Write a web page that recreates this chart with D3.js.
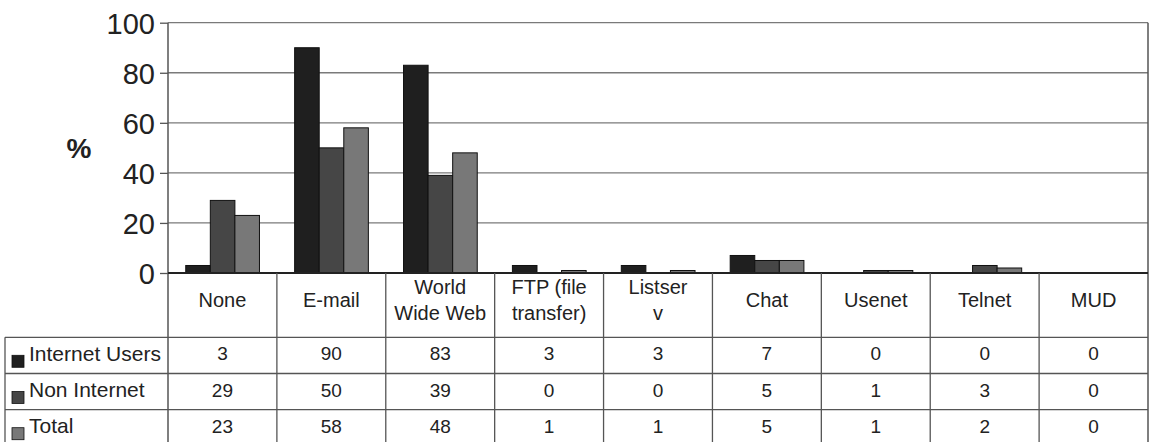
<!DOCTYPE html>
<html>
<head>
<meta charset="utf-8">
<script src="https://cdn.jsdelivr.net/npm/d3@7"></script>
<style>
  html, body { margin: 0; padding: 0; background: #fff; }
  svg { display: block; font-family: "Liberation Sans", Arial, sans-serif; }
</style>
</head>
<body>
<svg id="chart" width="1150" height="442"></svg>
<script>
// ---- data ----
const categories = ["None", "E-mail", "World Wide Web", "FTP (file transfer)", "Listserv", "Chat", "Usenet", "Telnet", "MUD"];
const categoryLines = [["None"], ["E-mail"], ["World", "Wide Web"], ["FTP (file", "transfer)"], ["Listser", "v"], ["Chat"], ["Usenet"], ["Telnet"], ["MUD"]];
const seriesNames = ["Internet Users", "Non Internet", "Total"];
const internetUsers = [3, 90, 83, 3, 3, 7, 0, 0, 0];
const nonInternet = [29, 50, 39, 0, 0, 5, 1, 3, 0];
const total = [23, 58, 48, 1, 1, 5, 1, 2, 0];
const yTicks = [0, 20, 40, 60, 80, 100];

const seriesValues = [internetUsers, nonInternet, total];
const colors = ["#1f1f1f", "#464646", "#787878"];

// ---- layout ----
const svg = d3.select("#chart");
const plotLeft = 168, plotRight = 1148;
const yTop = 22.7, yBottom = 273;
const tableLeft = 5;
const headerBottom = 337.3;
const rowH = 36.2;

const x = d3.scaleBand().domain(categories).range([plotLeft, plotRight]).padding(0);
const step = x.bandwidth();
const xInner = d3.scaleBand().domain(seriesNames).range([step * 0.163, step * 0.84]).padding(0);
const y = d3.scaleLinear().domain([0, 100]).range([yBottom, yTop]);

// gridlines
svg.append("g")
  .selectAll("line")
  .data(yTicks.filter(d => d > 0))
  .join("line")
  .attr("x1", plotLeft).attr("x2", plotRight)
  .attr("y1", d => y(d)).attr("y2", d => y(d))
  .attr("stroke", "#7a7a7a").attr("stroke-width", 1.3);

// y axis
const yAxis = d3.axisLeft(y).tickValues(yTicks).tickSize(8).tickPadding(5).tickFormat(d3.format("d"));
const gy = svg.append("g").attr("transform", `translate(${plotLeft},0)`).call(yAxis);
gy.select(".domain").remove();
gy.selectAll(".tick line").attr("stroke", "#555").attr("stroke-width", 1.3);
gy.selectAll(".tick text").attr("font-size", 29).attr("fill", "#222").attr("font-family", "Liberation Sans, Arial, sans-serif").attr("dy", "0.36em");

// % label
svg.append("text").attr("x", 79).attr("y", 158).attr("text-anchor", "middle")
  .attr("font-size", 28).attr("font-weight", "bold").attr("fill", "#222").text("%");

// bars
const barData = [];
categories.forEach((c, i) => {
  seriesNames.forEach((s, j) => {
    barData.push({ cat: c, series: s, value: seriesValues[j][i], color: colors[j] });
  });
});
svg.append("g")
  .selectAll("rect")
  .data(barData.filter(d => d.value > 0))
  .join("rect")
  .attr("x", d => x(d.cat) + xInner(d.series))
  .attr("width", xInner.bandwidth())
  .attr("y", d => y(d.value))
  .attr("height", d => y(0) - y(d.value))
  .attr("fill", d => d.color)
  .attr("stroke", "#111").attr("stroke-width", 1);

// plot borders
svg.append("line").attr("x1", plotLeft).attr("x2", plotLeft).attr("y1", yTop).attr("y2", 442)
  .attr("stroke", "#555").attr("stroke-width", 1.5);
svg.append("line").attr("x1", plotRight).attr("x2", plotRight).attr("y1", yTop).attr("y2", 442)
  .attr("stroke", "#555").attr("stroke-width", 1.5);
// zero axis
svg.append("line").attr("x1", plotLeft).attr("x2", plotRight).attr("y1", y(0)).attr("y2", y(0))
  .attr("stroke", "#222").attr("stroke-width", 2);

// table column separators (header + rows)
svg.append("g").selectAll("line")
  .data(categories.slice(1))
  .join("line")
  .attr("x1", d => x(d)).attr("x2", d => x(d))
  .attr("y1", y(0)).attr("y2", 442)
  .attr("stroke", "#555").attr("stroke-width", 1.3);

// row lines
const rowTops = seriesNames.map((s, i) => headerBottom + i * rowH);
svg.append("g").selectAll("line")
  .data(rowTops)
  .join("line")
  .attr("x1", tableLeft).attr("x2", plotRight)
  .attr("y1", d => d).attr("y2", d => d)
  .attr("stroke", "#555").attr("stroke-width", 1.3);
svg.append("line").attr("x1", tableLeft).attr("x2", tableLeft).attr("y1", headerBottom).attr("y2", 442)
  .attr("stroke", "#555").attr("stroke-width", 1.3);

// category labels
const catG = svg.append("g").attr("font-size", 20).attr("fill", "#222").attr("text-anchor", "middle");
categories.forEach((c, i) => {
  const lines = categoryLines[i];
  const cx = x(c) + step / 2;
  const baselines = lines.length === 1 ? [306.5] : [293.5, 320];
  lines.forEach((ln, k) => {
    catG.append("text").attr("x", cx).attr("y", baselines[k]).text(ln);
  });
});

// legend column
const legG = svg.append("g");
seriesNames.forEach((s, j) => {
  const top = rowTops[j];
  legG.append("rect").attr("x", 12).attr("y", top + 18).attr("width", 12).attr("height", 12)
    .attr("fill", colors[j]).attr("stroke", "#111").attr("stroke-width", 0.8);
  legG.append("text").attr("x", 29).attr("y", top + 23.5).attr("font-size", 21).attr("fill", "#222").text(s);
});

// value cells
const valG = svg.append("g").attr("font-size", 19).attr("fill", "#222").attr("text-anchor", "middle");
seriesNames.forEach((s, j) => {
  categories.forEach((c, i) => {
    valG.append("text").attr("x", x(c) + step / 2).attr("y", rowTops[j] + 23)
      .text(seriesValues[j][i]);
  });
});
</script>
</body>
</html>
